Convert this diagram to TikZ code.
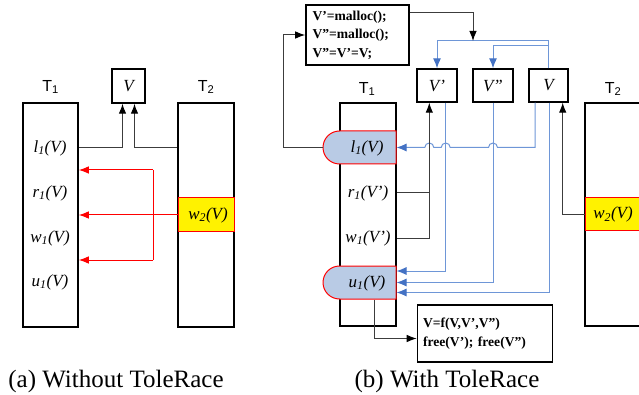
\documentclass[tikz,border=0pt]{standalone}
\usepackage{fontspec}
\setmainfont{Liberation Serif}
\newfontfamily\arialf{Liberation Sans}
\usetikzlibrary{arrows.meta,shapes.misc,calc}
\definecolor{lnblue}{RGB}{110,150,215}
\definecolor{tipblue}{RGB}{68,114,196}
\definecolor{nfill}{RGB}{185,203,229}
\definecolor{lngray}{RGB}{60,60,60}
\begin{document}
\begin{tikzpicture}[x=1pt,y=-1pt,
  box/.style={draw, line width=1.6pt, rectangle, inner sep=0pt},
  vbox/.style={draw, line width=1.4pt, rectangle, inner sep=0pt, font=\fontsize{17}{17}\selectfont\itshape},
  lab/.style={inner sep=0pt, font=\fontsize{17}{17}\selectfont\itshape},
  tl/.style={inner sep=0pt, font=\arialf\fontsize{16}{16}\selectfont},
  ybox/.style={draw=red, fill=yellow, line width=1pt, rectangle, inner sep=0pt},
  hbox/.style={draw=red, fill=nfill, line width=1pt, rounded rectangle, rounded rectangle right arc=none, inner sep=0pt},
  code/.style={draw, line width=1.6pt, rectangle, inner ysep=0pt, align=left, font=\bfseries\fontsize{13.6}{18.5}\selectfont},
  conn/.style={line width=1pt, draw=lngray},
  arr/.style={-{Latex[length=10pt,width=7.5pt,color=black]}},
  redc/.style={line width=1pt, draw=red, -{Latex[length=10pt,width=7.5pt,color=red]}},
  redl/.style={line width=1pt, draw=red},
  bconn/.style={line width=1pt, draw=lnblue, -{Latex[length=10pt,width=8pt,color=tipblue]}},
  captext/.style={inner sep=0pt, font=\fontsize{25}{25}\selectfont}
]
\useasboundingbox (0,0) rectangle (639,395);
\clip (0,0) rectangle (639,395);

% ---------- (a) ----------
\node[tl] (T1al) at (50.5,87) {T\textsubscript{1}};
\node[box, minimum width=55pt, minimum height=224pt] (T1a) at (50.5,215) {};
\node[tl] (T2al) at (206,87) {T\textsubscript{2}};
\node[box, minimum width=56pt, minimum height=224pt] (T2a) at (206,215) {};
\node[ybox, minimum width=56pt, minimum height=34pt] (w2a) at (206,215) {};
\node[lab] (w2at) at (208,215) {w\textsubscript{2}(V)};
\node[vbox, minimum width=33pt, minimum height=34pt] (Va) at (128.5,86) {V};
\node[lab] (l1a) at (50,148) {l\textsubscript{1}(V)};
\node[lab] (r1a) at (50,193) {r\textsubscript{1}(V)};
\node[lab] (w1a) at (50,238) {w\textsubscript{1}(V)};
\node[lab] (u1a) at (50,282) {u\textsubscript{1}(V)};

\draw[conn,arr] (T1a.east |- l1a) -| ([xshift=-6pt]Va.south);
\draw[conn,arr] (T2a.west |- l1a) -| ([xshift=6pt]Va.south);
\draw[redc] (w2a.west) -- (w2a.west -| T1a.east);
\coordinate (ra) at (153,170);
\coordinate (rb) at (153,260);
\draw[redl] (ra) -- (rb);
\draw[redc] (ra) -- (ra -| T1a.east);
\draw[redc] (rb) -- (rb -| T1a.east);

\node[captext] (capa) at (116,381) {(a) Without ToleRace};

% ---------- (b) ----------
\node[code, minimum width=103pt, minimum height=60pt, text width=90pt, inner xsep=6.5pt] (code1) at (357.5,35)
  {V’=malloc();\\V”=malloc();\\V”=V’=V;};
\node[tl] (T1bl) at (367,89) {T\textsubscript{1}};
\node[box, minimum width=56pt, minimum height=223pt] (T1b) at (368,214.5) {};
\node[hbox, minimum width=73pt, minimum height=33pt] (l1b) at (359.5,147.5) {};
\node[lab] (l1bt) at (367,148) {l\textsubscript{1}(V)};
\node[lab] (r1b) at (368,193) {r\textsubscript{1}(V’)};
\node[lab] (w1b) at (368,238) {w\textsubscript{1}(V’)};
\node[hbox, minimum width=73pt, minimum height=33pt] (u1b) at (359.5,282.5) {};
\node[lab] (u1bt) at (367,283) {u\textsubscript{1}(V)};

\node[vbox, minimum width=40pt, minimum height=33pt] (Vpb) at (437,85.5) {V’};
\node[vbox, minimum width=40pt, minimum height=33pt] (Vppb) at (493,85.5) {V”};
\node[vbox, minimum width=39pt, minimum height=33pt] (Vb) at (548.5,85.5) {V};

\node[tl] (T2bl) at (613,89) {T\textsubscript{2}};
\node[box, minimum width=80pt, minimum height=223pt] (T2b) at (625,214.5) {};
\node[ybox, minimum width=80pt, minimum height=33pt] (w2b) at (625,214.5) {};
\node[lab] (w2bt) at (613,214.5) {w\textsubscript{2}(V)};

\node[code, minimum width=135pt, minimum height=57pt, text width=124pt, inner xsep=5.5pt] (code2) at (485,333.5)
  {V=f(V,V’,V”)\\free(V’); free(V”)};

\node[captext] (capb) at (447,381) {(b) With ToleRace};

\coordinate (bj) at (473,41);
\coordinate (bk) at (548.5,46);
\coordinate (vpbl) at ([xshift=-7.7pt]Vpb.south);
\coordinate (vpbr) at ([xshift=8.7pt]Vpb.south);
\coordinate (vbl) at ([xshift=-13.5pt]Vb.south);
\coordinate (vbm) at ([xshift=0.5pt]Vb.south);
\coordinate (vbr) at ([xshift=14.2pt]Vb.south);
\coordinate (u1bd) at ([xshift=14.5pt]u1b.south);

% blue connectors
\draw[bconn] (Vb.north) -- (Vb.north |- bj) -| (Vpb.north);
\draw[bconn] (bk) -| (Vppb.north);
\draw[bconn] (vpbr) |- ([yshift=11.5pt]u1b.east);
\draw[bconn] (Vppb.south) |- (u1b.east);
\draw[bconn] (vbm) |- ([yshift=-10pt]u1b.east);
\draw[bconn] (vbl) |- ($(Vppb.south |- l1b.east)+(4.5,0)$)
  arc[start angle=0,end angle=180,radius=4.5pt]
  -- ($(vpbr |- l1b.east)+(4.5,0)$)
  arc[start angle=0,end angle=180,radius=4.5pt]
  -- ($(vpbl |- l1b.east)+(4.5,0)$)
  arc[start angle=0,end angle=180,radius=4.5pt]
  -- (l1b.east);

% black connectors
\draw[conn,arr] (l1b.west) -- ++(-39,0) |- (code1.west);
\draw[conn,arr] ([yshift=22pt]code1.east) -| (bj);
\draw[conn] (T1b.east |- r1b) -- (vpbl |- r1b);
\draw[conn,arr] (T1b.east |- w1b) -| (vpbl);
\draw[conn,arr] (w2b.west) -| (vbr);
\draw[conn,arr] (u1bd) |- ([yshift=-5pt]code2.west);
\end{tikzpicture}
\end{document}
